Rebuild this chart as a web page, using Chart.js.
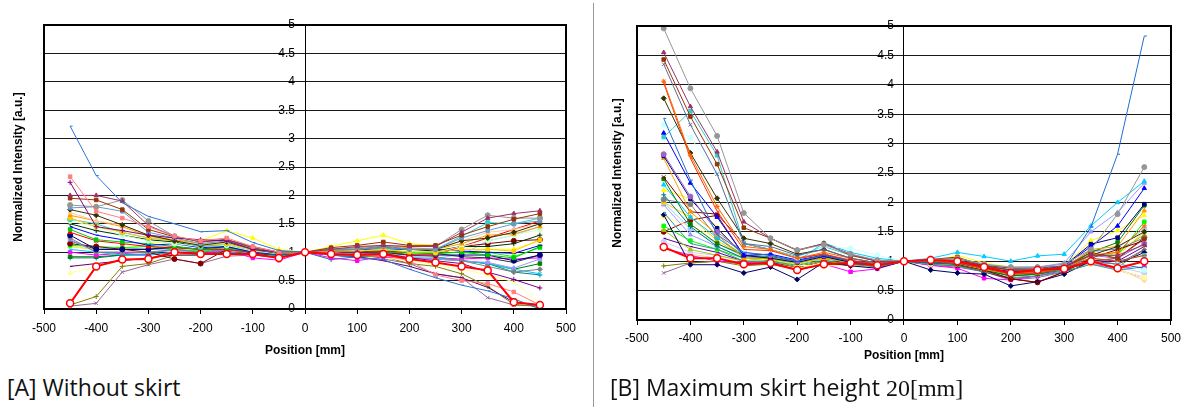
<!DOCTYPE html>
<html>
<head>
<meta charset="utf-8">
<script src="https://cdn.jsdelivr.net/npm/chart.js@4.4.1/dist/chart.umd.min.js"></script>
<style>
  body { margin: 0; background: #fff; width: 1187px; height: 407px; position: relative; overflow: hidden; }
  canvas { position: absolute; top: 0; }
  #chartA { left: 0; }
  #chartB { left: 596px; }
  .divider { position: absolute; left: 593px; top: 3px; width: 1px; height: 404px; background: #999; }
  .caption { position: absolute; top: 372px; line-height: 31px; font-family: "Open Sans", sans-serif; font-size: 23px; color: #111; white-space: nowrap; }
  .caption .unit { font-family: "Liberation Serif", serif; font-size: 24px; }
</style>
</head>
<body>
<canvas id="chartA" width="590" height="365"></canvas>
<div class="divider"></div>
<canvas id="chartB" width="591" height="375"></canvas>
<div class="caption" style="left:7px">[A] Without skirt</div>
<div class="caption" style="left:610px">[B] Maximum skirt height <span class="unit">20[mm]</span></div>

<script>
// measurement positions along the plate
const positions = [-450, -400, -350, -300, -250, -200, -150, -100, -50, 0, 50, 100, 150, 200, 250, 300, 350, 400, 450];

// [A] without skirt - normalized intensity per measurement line
const intensityA = [
  [0.1, 0.75, 0.87, 0.88, 1.0, 0.97, 0.97, 0.97, 0.9, 1, 0.97, 0.95, 0.97, 0.88, 0.82, 0.75, 0.68, 0.12, 0.07],
  [3.22, 2.35, 1.87, 1.63, 1.5, 1.36, 1.38, 1.17, 1.03, 1, 0.95, 0.9, 0.87, 0.7, 0.55, 0.42, 0.32, 0.18, 0.0],
  [2.33, 1.72, 1.6, 1.45, 1.28, 1.2, 1.25, 1.1, 1.0, 1, 1.0, 0.95, 0.95, 0.85, 0.6, 0.5, 0.45, 0.3, 0.07],
  [2.23, 1.45, 1.38, 1.3, 1.25, 1.22, 1.2, 1.05, 1.0, 1, 1.0, 1.0, 0.98, 0.9, 0.85, 0.8, 0.65, 0.52, 0.37],
  [2.0, 2.0, 1.9, 1.47, 1.28, 1.18, 1.22, 1.1, 1.0, 1, 1.05, 1.1, 1.12, 1.1, 1.1, 1.35, 1.6, 1.68, 1.73],
  [1.95, 1.92, 1.75, 1.4, 1.27, 1.2, 1.22, 1.08, 1.0, 1, 1.08, 1.12, 1.18, 1.12, 1.12, 1.3, 1.45, 1.58, 1.68],
  [1.83, 1.8, 1.92, 1.55, 1.28, 1.18, 1.22, 1.07, 0.98, 1, 1.05, 1.08, 1.12, 1.1, 1.1, 1.4, 1.65, 1.6, 1.6],
  [1.78, 1.8, 1.72, 1.35, 1.25, 1.15, 1.2, 1.05, 1.0, 1, 1.05, 1.05, 1.1, 1.05, 1.05, 1.25, 1.38, 1.5, 1.55],
  [1.75, 1.65, 1.48, 1.3, 1.2, 1.12, 1.18, 1.05, 0.98, 1, 1.05, 1.05, 1.1, 1.05, 1.05, 1.2, 1.25, 1.35, 1.5],
  [1.7, 1.55, 1.48, 1.3, 1.25, 1.15, 1.18, 1.05, 1.0, 1, 1.05, 1.05, 1.1, 1.05, 1.05, 1.2, 1.35, 1.4, 1.5],
  [1.65, 1.55, 1.45, 1.28, 1.22, 1.15, 1.18, 1.05, 0.98, 1, 1.05, 1.08, 1.1, 1.08, 1.05, 1.15, 1.3, 1.32, 1.45],
  [1.6, 1.45, 1.35, 1.25, 1.2, 1.12, 1.15, 1.05, 0.98, 1, 1.02, 1.02, 1.05, 1.0, 1.0, 1.05, 1.05, 1.02, 1.22],
  [1.58, 1.5, 1.35, 1.25, 1.2, 1.1, 1.15, 1.05, 0.98, 1, 1.05, 1.05, 1.08, 1.05, 1.05, 1.28, 1.52, 1.5, 1.6],
  [1.55, 1.45, 1.3, 1.2, 1.15, 1.1, 1.12, 1.02, 0.97, 1, 1.02, 1.02, 1.05, 1.02, 1.0, 1.1, 1.2, 1.3, 1.4],
  [1.5, 1.38, 1.3, 1.22, 1.18, 1.1, 1.12, 1.02, 0.97, 1, 1.02, 1.05, 1.08, 1.05, 1.02, 1.1, 1.1, 1.15, 1.3],
  [1.45, 1.3, 1.22, 1.12, 1.15, 1.08, 1.1, 1.0, 0.96, 1, 1.02, 1.05, 1.05, 1.05, 1.05, 1.02, 1.0, 0.98, 1.12],
  [1.4, 1.22, 1.18, 1.15, 1.1, 1.05, 1.08, 1.0, 0.95, 1, 1.0, 1.0, 1.0, 1.0, 0.98, 1.0, 0.95, 0.9, 1.1],
  [1.35, 1.2, 1.15, 1.1, 1.08, 1.05, 1.05, 1.0, 0.95, 1, 1.0, 1.0, 1.02, 0.95, 0.95, 1.1, 1.25, 1.4, 1.55],
  [1.3, 1.05, 1.05, 1.05, 1.1, 1.05, 1.1, 0.98, 0.95, 1, 1.0, 1.0, 1.0, 0.95, 0.95, 0.95, 0.95, 0.85, 0.95],
  [1.25, 1.0, 1.0, 1.0, 1.05, 1.0, 1.05, 0.98, 0.95, 1, 1.0, 0.98, 0.98, 0.95, 0.92, 0.85, 0.75, 0.65, 0.7],
  [1.22, 1.0, 1.0, 1.0, 1.03, 1.0, 1.05, 0.97, 0.95, 1, 0.95, 0.95, 0.95, 0.9, 0.88, 0.85, 0.82, 0.72, 0.88],
  [1.2, 1.05, 1.05, 1.05, 1.08, 1.05, 1.1, 1.0, 0.95, 1, 1.0, 1.0, 1.02, 1.0, 0.98, 0.92, 0.9, 0.82, 0.95],
  [1.15, 1.1, 1.05, 1.0, 0.88, 0.8, 1.05, 0.98, 0.95, 1, 1.0, 1.0, 1.05, 1.0, 1.0, 1.1, 1.15, 1.2, 1.22],
  [1.12, 1.1, 1.08, 1.1, 1.05, 1.02, 1.05, 1.0, 0.95, 1, 1.0, 0.98, 1.0, 0.98, 0.98, 1.0, 1.0, 0.92, 1.08],
  [1.1, 1.05, 1.05, 1.15, 1.2, 1.2, 1.38, 1.25, 1.05, 1, 1.1, 1.2, 1.3, 1.15, 1.12, 1.0, 1.05, 1.05, 1.2],
  [1.1, 1.05, 1.08, 1.05, 1.05, 1.02, 1.08, 0.98, 0.95, 1, 0.98, 0.97, 0.95, 0.92, 0.9, 0.95, 1.2, 1.3, 1.45],
  [1.05, 1.0, 0.95, 0.95, 1.0, 0.95, 1.0, 0.96, 0.93, 1, 0.98, 0.97, 0.96, 0.92, 0.9, 0.85, 0.8, 0.7, 0.62],
  [1.0, 0.95, 0.98, 0.95, 1.0, 0.97, 1.03, 0.9, 0.86, 1, 0.9, 0.85, 0.92, 0.88, 0.9, 0.88, 0.9, 0.88, 0.9],
  [0.92, 0.92, 0.95, 0.95, 1.0, 0.98, 1.0, 0.95, 0.95, 1, 0.95, 0.95, 0.95, 0.9, 0.88, 0.85, 0.8, 0.7, 0.8],
  [0.9, 0.9, 0.95, 0.97, 1.05, 0.98, 1.05, 0.96, 0.93, 1, 0.87, 0.92, 0.95, 0.9, 0.9, 0.85, 0.8, 0.65, 0.6],
  [0.75, 0.8, 0.85, 0.9, 0.95, 0.95, 1.0, 0.95, 0.92, 1, 0.95, 0.92, 0.85, 0.75, 0.62, 0.55, 0.38, 0.12, 0.07],
  [0.63, 0.75, 0.85, 0.9, 0.97, 0.95, 1.0, 0.95, 0.92, 1, 0.95, 0.92, 0.9, 0.85, 0.78, 0.7, 0.6, 0.48, 0.1],
  [0.07, 0.22, 0.75, 0.8, 0.95, 0.95, 1.02, 0.95, 0.92, 1, 0.95, 0.92, 0.92, 0.8, 0.75, 0.62, 0.4, 0.08, 0.05],
  [0.05, 0.1, 0.65, 0.78, 0.88, 0.8, 0.93, 0.95, 0.9, 1, 0.95, 0.92, 0.88, 0.8, 0.62, 0.55, 0.2, 0.07, 0.05]
];
const colorsA = ['#ff0000', '#2f75d6', '#ff8080', '#800080', '#993366', '#993300', '#969696', '#6699cc', '#333300',
  '#ffcc99', '#ff9900', '#ffcc00', '#33cccc', '#ccffcc', '#003300', '#0000ff', '#00cc00', '#ff0000', '#000080',
  '#808080', '#9999ff', '#333333', '#800000', '#00ff00', '#ffff00', '#99ccff', '#00ccff', '#ff00ff', '#008000',
  '#008080', '#660066', '#ffff99', '#808000', '#996699'];
const markersA = ['circle', 'dash', 'rect', 'cross', 'triangle', 'rect', 'circle', 'rect', 'rectRot',
  'triangle', 'triangle', 'rect', 'circle', 'circle', 'cross', 'dash', 'rect', 'triangle', 'circle',
  'rectRot', 'triangle', 'dash', 'circle', 'rect', 'triangle', 'crossRot', 'crossRot', 'rect', 'rect',
  'cross', 'dash', 'triangle', 'cross', 'crossRot'];

// [B] maximum skirt height 20 mm
const intensityB = [
  [1.24, 1.05, 1.05, 0.95, 0.97, 0.85, 0.95, 0.97, 0.93, 1, 1.02, 1.0, 0.9, 0.8, 0.85, 0.87, 1.0, 0.88, 1.0],
  [4.96, 3.94, 3.13, 1.82, 1.39, 1.19, 1.28, 1.12, 1.02, 1, 1.02, 1.05, 0.95, 0.9, 0.9, 0.95, 1.2, 1.8, 2.6],
  [4.55, 3.63, 2.86, 1.67, 1.39, 1.19, 1.3, 1.12, 1.0, 1, 1.02, 1.05, 0.93, 0.88, 0.88, 0.92, 1.1, 1.1, 1.28],
  [4.43, 3.46, 2.65, 1.57, 1.39, 1.18, 1.3, 1.1, 1.0, 1, 1.03, 1.07, 0.92, 0.85, 0.85, 0.9, 1.15, 1.05, 1.38],
  [4.35, 3.32, 2.48, 1.3, 1.25, 1.1, 1.2, 1.05, 0.97, 1, 1.0, 1.02, 0.9, 0.85, 0.85, 0.9, 1.0, 0.95, 1.2],
  [4.06, 2.8, 1.93, 1.25, 1.2, 1.05, 1.15, 1.05, 0.97, 1, 1.0, 1.0, 0.9, 0.8, 0.82, 0.88, 1.1, 1.15, 1.6],
  [4.03, 2.75, 1.85, 1.2, 1.18, 1.05, 1.12, 1.02, 0.95, 1, 1.0, 0.98, 0.88, 0.78, 0.8, 0.88, 1.05, 1.0, 1.1],
  [3.77, 2.84, 2.07, 1.39, 1.3, 1.12, 1.2, 1.05, 0.97, 1, 1.0, 1.02, 0.92, 0.85, 0.85, 0.9, 1.1, 1.25, 1.5],
  [3.43, 2.38, 1.45, 1.15, 1.1, 1.0, 1.1, 1.0, 0.95, 1, 0.98, 0.98, 0.88, 0.78, 0.8, 0.88, 1.58, 2.82, 4.83],
  [3.32, 3.1, 2.5, 1.2, 1.2, 1.05, 1.25, 1.22, 1.1, 1, 1.02, 1.0, 0.9, 0.85, 0.85, 0.88, 1.0, 0.95, 0.85],
  [3.11, 3.55, 2.8, 1.3, 1.2, 1.08, 1.25, 1.1, 1.0, 1, 1.02, 1.05, 0.95, 0.88, 0.9, 0.92, 1.05, 1.0, 1.1],
  [3.18, 2.33, 1.75, 1.1, 1.12, 1.02, 1.1, 1.0, 0.95, 1, 1.0, 1.0, 0.9, 0.82, 0.85, 0.92, 1.25, 1.6, 2.24],
  [2.82, 2.1, 1.5, 1.15, 1.1, 1.0, 1.1, 1.0, 0.95, 1, 1.0, 0.98, 0.88, 0.8, 0.82, 0.9, 1.1, 1.05, 1.3],
  [2.79, 2.06, 1.56, 1.1, 1.05, 0.98, 1.08, 0.98, 0.95, 1, 0.98, 0.97, 0.88, 0.8, 0.82, 0.92, 1.29, 1.4, 1.97],
  [2.75, 1.84, 1.45, 1.05, 1.05, 0.98, 1.05, 0.98, 0.93, 1, 0.98, 0.96, 0.86, 0.78, 0.8, 0.88, 1.2, 1.25, 1.86],
  [2.43, 1.84, 1.8, 1.3, 1.2, 1.05, 1.12, 1.0, 0.95, 1, 0.98, 0.95, 0.85, 0.7, 0.64, 0.82, 1.05, 1.2, 1.35],
  [2.4, 1.63, 1.3, 1.1, 1.08, 1.0, 1.08, 0.98, 0.93, 1, 0.97, 0.95, 0.85, 0.75, 0.78, 0.88, 1.15, 1.32, 1.95],
  [2.3, 1.75, 1.4, 1.1, 1.05, 1.0, 1.31, 1.15, 1.05, 1, 1.05, 1.15, 1.08, 1.0, 1.09, 1.12, 1.6, 2.0, 2.36],
  [2.21, 2.06, 1.57, 1.05, 1.02, 0.95, 1.05, 0.98, 0.93, 1, 0.98, 1.1, 0.97, 0.9, 0.88, 0.92, 1.35, 1.52, 1.78],
  [2.13, 1.59, 1.25, 1.05, 1.02, 0.95, 1.05, 0.97, 0.92, 1, 0.97, 0.95, 0.85, 0.75, 0.78, 0.85, 1.0, 0.95, 0.88],
  [2.05, 1.97, 1.4, 1.08, 1.05, 0.98, 1.05, 0.98, 0.93, 1, 1.0, 1.0, 0.9, 0.82, 0.82, 0.9, 1.18, 1.2, 1.4],
  [2.0, 1.75, 1.35, 1.08, 1.05, 0.98, 1.05, 0.98, 0.93, 1, 1.0, 0.98, 0.9, 0.8, 0.82, 0.9, 1.1, 1.1, 1.5],
  [2.0, 1.55, 1.3, 1.08, 1.05, 0.97, 1.08, 1.0, 0.95, 1, 1.0, 1.0, 0.93, 0.85, 0.85, 0.92, 1.15, 1.22, 1.55],
  [1.96, 1.45, 1.25, 1.05, 1.05, 0.95, 1.05, 0.98, 0.93, 1, 1.02, 1.05, 0.93, 0.9, 0.9, 0.97, 1.5, 1.83, 2.33],
  [1.83, 1.3, 1.2, 1.0, 1.0, 0.93, 1.02, 0.95, 0.9, 1, 0.95, 0.92, 0.82, 0.72, 0.75, 0.82, 0.95, 0.85, 0.9],
  [1.79, 0.94, 0.94, 0.8, 0.9, 0.69, 0.98, 0.92, 0.88, 1, 0.85, 0.8, 0.78, 0.58, 0.65, 0.78, 1.0, 0.95, 1.15],
  [1.75, 1.6, 1.4, 1.1, 1.05, 0.93, 0.92, 0.93, 0.9, 1, 0.95, 0.95, 0.85, 0.75, 0.78, 0.85, 0.95, 0.85, 0.72],
  [1.6, 1.35, 1.2, 1.05, 1.02, 0.95, 1.05, 0.97, 0.92, 1, 0.97, 0.95, 0.87, 0.78, 0.8, 0.9, 1.12, 1.1, 1.67],
  [1.53, 1.2, 1.1, 1.0, 1.0, 0.9, 1.0, 0.95, 0.9, 1, 0.96, 0.95, 0.85, 0.78, 0.8, 0.85, 1.1, 1.15, 1.45],
  [1.5, 1.7, 1.78, 1.1, 1.0, 0.9, 1.0, 0.93, 0.9, 1, 0.95, 0.93, 0.82, 0.7, 0.64, 0.82, 1.0, 1.05, 1.4],
  [1.39, 1.25, 1.15, 1.0, 0.98, 0.9, 1.0, 0.95, 0.9, 1, 0.95, 0.93, 0.85, 0.75, 0.78, 0.85, 1.0, 1.0, 1.25],
  [1.33, 1.15, 1.1, 1.0, 0.98, 0.9, 1.0, 0.95, 0.92, 1, 0.97, 0.95, 0.88, 0.8, 0.82, 0.88, 0.97, 0.9, 0.8],
  [1.22, 1.1, 1.0, 0.98, 0.97, 0.85, 0.95, 0.82, 0.87, 1, 0.93, 0.88, 0.71, 0.68, 0.75, 0.85, 0.95, 0.88, 0.9],
  [1.2, 1.12, 1.05, 0.97, 0.97, 0.88, 0.97, 0.95, 0.9, 1, 0.95, 0.93, 0.85, 0.75, 0.78, 0.85, 0.95, 0.88, 0.67],
  [0.92, 0.97, 1.0, 0.92, 0.95, 0.87, 0.93, 0.95, 0.9, 1, 0.95, 0.92, 0.85, 0.7, 0.75, 0.85, 0.95, 0.9, 1.2],
  [0.8, 0.97, 1.0, 0.95, 0.95, 0.85, 0.95, 0.95, 0.9, 1, 0.93, 0.9, 0.82, 0.68, 0.72, 0.82, 0.95, 0.85, 0.72]
];
const colorsB = ['#ff0000', '#969696', '#993366', '#993300', '#666699', '#ff6600', '#ff3300', '#333300', '#1f6fd0',
  '#ccffff', '#33cccc', '#0000ff', '#9966cc', '#000080', '#ff9900', '#800000', '#008000', '#00ccff', '#ffff00',
  '#008080', '#808080', '#ffcc00', '#99ccff', '#9999ff', '#339999', '#000066', '#ffff99', '#00ff00', '#99cc00',
  '#990000', '#660099', '#ccccff', '#ff00ff', '#ffcc99', '#808000', '#996699'];
const markersB = ['circle', 'circle', 'triangle', 'rect', 'crossRot', 'star', 'dash', 'rectRot', 'dash',
  'circle', 'rect', 'triangle', 'circle', 'rect', 'triangle', 'crossRot', 'rect', 'triangle', 'triangle',
  'cross', 'circle', 'rect', 'circle', 'triangle', 'dash', 'rectRot', 'circle', 'rect', 'triangle',
  'circle', 'dash', 'circle', 'rect', 'star', 'cross', 'crossRot'];

const yMin = 0;
const yMax = 5;
const yStep = 0.5;
const xMin = -500;
const xMax = 500;
const xStep = 100;

const axisFont = { family: 'Liberation Sans, Arial', size: 12 };
const titleFont = { family: 'Liberation Sans, Arial', size: 12, weight: 'bold' };

// black box around the plot area, like the spreadsheet original
const plotFrame = {
  id: 'plotFrame',
  afterDraw(chart) {
    const { ctx, chartArea: a } = chart;
    ctx.save();
    ctx.strokeStyle = '#000';
    ctx.lineWidth = 2;
    ctx.strokeRect(a.left, a.top, a.right - a.left, a.bottom - a.top);
    ctx.restore();
  }
};

// first row of each panel is the highlighted line (thick red, open circles)
function buildDatasets(rows, colors, markers) {
  return rows.map((vals, i) => {
    const heavy = i === 0;
    return {
      data: vals.map((v, j) => ({ x: positions[j], y: v })),
      borderColor: colors[i],
      backgroundColor: colors[i],
      borderWidth: heavy ? 2 : 1,
      pointStyle: markers[i],
      pointRadius: heavy ? 3.5 : 2.5,
      pointBorderWidth: heavy ? 1.5 : 1,
      pointBackgroundColor: heavy ? '#fff' : colors[i],
      pointBorderColor: colors[i],
      tension: 0
    };
  });
}

function makeChart(canvasId, rows, colors, markers, box) {
  return new Chart(document.getElementById(canvasId), {
    type: 'line',
    data: { datasets: buildDatasets(rows, colors, markers) },
    plugins: [plotFrame],
    options: {
      responsive: false,
      animation: false,
      devicePixelRatio: 1,
      layout: { padding: { top: box.top, right: box.right, bottom: 0, left: 0 } },
      plugins: {
        legend: { display: false },
        tooltip: { enabled: false }
      },
      scales: {
        x: {
          type: 'linear',
          position: 'bottom',
          min: xMin,
          max: xMax,
          ticks: { stepSize: xStep, color: '#000', font: axisFont, padding: box.tickPad, maxRotation: 0 },
          grid: { drawOnChartArea: false, drawTicks: true, tickLength: 5, color: '#000' },
          border: { color: '#000', width: 1 },
          title: {
            display: true, text: 'Position [mm]', color: '#000', font: titleFont,
            padding: { top: 0, bottom: box.xTitlePad }
          },
          afterFit: s => { s.height = box.xHeight; }
        },
        y: {
          type: 'linear',
          position: { x: 0 },
          min: yMin,
          max: yMax,
          // labels sit just left of the centre axis; trailing spaces keep them off the line
          ticks: { stepSize: yStep, color: '#000', font: axisFont, callback: v => String(v) + '   ' },
          grid: { color: '#1a1a1a', lineWidth: 1, tickLength: 5 },
          border: { color: '#000', width: 1 }
        },
        // carries only the axis title on the left edge
        yTitle: {
          type: 'linear',
          position: 'left',
          min: yMin,
          max: yMax,
          ticks: { display: false },
          grid: { display: false },
          border: { display: false },
          title: {
            display: true, text: 'Normalized Intensity [a.u.]', color: '#000', font: titleFont,
            padding: { top: box.yTitlePad, bottom: 0 }
          },
          afterFit: s => { s.width = box.left; }
        }
      }
    }
  });
}

makeChart('chartA', intensityA, colorsA, markersA,
  { top: 25, right: 24, left: 44, xHeight: 56, tickPad: 7, xTitlePad: 7, yTitlePad: 11 });
makeChart('chartB', intensityB, colorsB, markersB,
  { top: 26, right: 16, left: 41, xHeight: 55, tickPad: 6, xTitlePad: 12, yTitlePad: 14 });
</script>
</body>
</html>
